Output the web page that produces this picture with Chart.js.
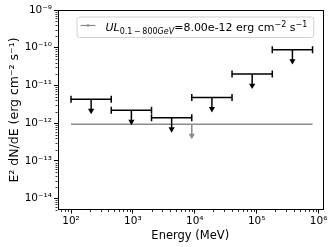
<!DOCTYPE html>
<html>
<head>
<meta charset="utf-8">
<script src="https://cdn.jsdelivr.net/npm/chart.js@4.4.1/dist/chart.umd.min.js"></script>
<style>
  html, body { margin: 0; padding: 0; background: #fff; }
  canvas { display: block; }
</style>
</head>
<body>
<canvas id="sed" width="332" height="247"></canvas>
<script>
// energy bins (MeV) and flux upper limits (erg cm^-2 s^-1)
const binLow = [100, 447, 2000, 8944, 40000, 178885];
const binHigh = [447, 2000, 8944, 40000, 178885, 800000];
const upperLimits = [4.3e-12, 2.2e-12, 1.4e-12, 4.8e-12, 2.0e-11, 8.9e-11];

// integrated upper limit over the whole band
const bandLow = 100;
const bandHigh = 800000;
const bandUL = 9.4e-13;
const bandLabelValue = '8.00e-12';

// axis ranges
const xRange = [60.5, 1.18e6];
const yRange = [5.0e-15, 1.0e-9];

const ARROW = 0.5;     // arrow end as fraction of the limit
const FONT = "'DejaVu Sans'";
const GREY = '#8c8c8c';

const SUP = { '-': '\u207B', '0': '\u2070', '1': '\u00B9', '2': '\u00B2', '3': '\u00B3',
  '4': '\u2074', '5': '\u2075', '6': '\u2076', '7': '\u2077', '8': '\u2078', '9': '\u2079' };
const sup = s => String(s).split('').map(ch => SUP[ch] || ch).join('');

// decade ticks + minor ticks 2..9
function logTicks(scale) {
  const ticks = [];
  const lo = Math.floor(Math.log10(scale.min));
  const hi = Math.ceil(Math.log10(scale.max));
  for (let e = lo; e <= hi; e++) {
    for (let k = 1; k <= 9; k++) {
      const v = k * Math.pow(10, e);
      if (v >= scale.min * 0.999 && v <= scale.max * 1.001) {
        ticks.push({ value: v, major: k === 1, exp: e });
      }
    }
  }
  scale.ticks = ticks;
}

function tickLabel(value, index, ticks) {
  const t = ticks[index];
  return t && t.major ? '10' + sup(t.exp) : '';
}

const datasets = [];
binLow.forEach((lo, i) => {
  const hi = binHigh[i];
  const v = upperLimits[i];
  const c = Math.sqrt(lo * hi);
  // horizontal energy bin with caps
  datasets.push({
    data: [{ x: lo, y: v }, { x: hi, y: v }],
    showLine: true, borderColor: '#000', borderWidth: 1.5,
    pointStyle: 'line', pointRotation: 90, pointRadius: 3.5,
    pointBorderColor: '#000', pointBorderWidth: 1.5
  });
  // downward arrow
  datasets.push({
    data: [{ x: c, y: v }, { x: c, y: v * ARROW }],
    showLine: true, borderColor: '#000', borderWidth: 1.5,
    pointStyle: 'triangle', pointRotation: 180, pointRadius: [0, 3.6],
    pointBackgroundColor: '#000', pointBorderColor: '#000', pointBorderWidth: 0
  });
});

// band limit (drawn underneath)
const bandCenter = Math.sqrt(bandLow * bandHigh);
datasets.push({
  data: [{ x: bandCenter, y: bandUL }, { x: bandCenter, y: bandUL * ARROW }],
  showLine: true, borderColor: GREY, borderWidth: 1.5,
  pointStyle: 'triangle', pointRotation: 180, pointRadius: [0, 3.6],
  pointBackgroundColor: GREY, pointBorderColor: GREY, pointBorderWidth: 0
});
datasets.push({
  data: [{ x: bandLow, y: bandUL }, { x: bandHigh, y: bandUL }],
  showLine: true, borderColor: GREY, borderWidth: 1.5, pointRadius: 0
});

// minor ticks, frame and legend
const decorations = {
  id: 'decorations',
  afterDraw(chart) {
    const ctx = chart.ctx;
    const a = chart.chartArea;
    ctx.save();
    ctx.strokeStyle = '#000';
    ctx.lineWidth = 0.8;
    const xs = chart.scales.x, ys = chart.scales.y;
    xs.ticks.forEach(t => {
      if (t.major) return;
      const px = Math.round(xs.getPixelForValue(t.value)) + 0.5;
      ctx.beginPath(); ctx.moveTo(px, a.bottom); ctx.lineTo(px, a.bottom + 2); ctx.stroke();
    });
    ys.ticks.forEach(t => {
      if (t.major) return;
      const py = Math.round(ys.getPixelForValue(t.value)) + 0.5;
      ctx.beginPath(); ctx.moveTo(a.left, py); ctx.lineTo(a.left - 2, py); ctx.stroke();
    });

    ctx.lineWidth = 1;
    ctx.strokeRect(Math.round(a.left) + 0.5, Math.round(a.top) + 0.5,
      Math.round(a.right - a.left) - 1, Math.round(a.bottom - a.top) - 1);

    // legend
    const big = '11px ' + FONT, bigI = 'italic 11px ' + FONT;
    const small = '8px ' + FONT, smallI = 'italic 8px ' + FONT;
    const parts = [
      { t: 'UL', f: bigI, dy: 0 },
      { t: '0.1\u2009\u2212\u2009800', f: small, dy: 2.5 },
      { t: 'GeV', f: smallI, dy: 2.5 },
      { t: '=' + bandLabelValue + ' erg cm', f: big, dy: 0 },
      { t: '\u22122', f: small, dy: -4 },
      { t: ' s', f: big, dy: 0 },
      { t: '\u22121', f: small, dy: -4 }
    ];
    let w = 0;
    parts.forEach(p => { ctx.font = p.f; p.w = ctx.measureText(p.t).width; w += p.w; });
    const bx = a.left + 19.5, by = a.top + 7;
    const bw = 28 + w + 7, bh = 20.5;
    ctx.beginPath();
    ctx.roundRect(bx, by, bw, bh, 2.5);
    ctx.fillStyle = 'rgba(255,255,255,0.8)';
    ctx.fill();
    ctx.strokeStyle = '#d0d0d0';
    ctx.lineWidth = 1;
    ctx.stroke();

    const ly = by + 8.5;
    ctx.strokeStyle = GREY;
    ctx.lineWidth = 1.2;
    ctx.beginPath(); ctx.moveTo(bx + 3.5, ly); ctx.lineTo(bx + 18.5, ly); ctx.stroke();
    ctx.fillStyle = GREY;
    ctx.beginPath(); ctx.arc(bx + 11, ly, 1.3, 0, Math.PI * 2); ctx.fill();

    ctx.fillStyle = '#000';
    ctx.textBaseline = 'alphabetic';
    let tx = bx + 28.5;
    const base = by + 14;
    parts.forEach(p => {
      ctx.font = p.f;
      ctx.fillText(p.t, tx, base + p.dy);
      tx += p.w;
    });
    ctx.restore();
  }
};

new Chart(document.getElementById('sed'), {
  type: 'scatter',
  data: { datasets: datasets },
  options: {
    responsive: false,
    animation: false,
    events: [],
    layout: { padding: { top: 10, right: 9, left: 0, bottom: 0 } },
    plugins: { legend: { display: false }, tooltip: { enabled: false } },
    scales: {
      x: {
        type: 'logarithmic',
        min: xRange[0], max: xRange[1],
        bounds: 'data',
        afterBuildTicks: logTicks,
        afterFit: s => { s.height = 37; },
        grid: {
          drawOnChartArea: false, drawTicks: true, tickLength: 3.5,
          tickColor: c => (c.tick && c.tick.major) ? '#000' : 'rgba(0,0,0,0)'
        },
        border: { display: false },
        ticks: {
          autoSkip: false, maxRotation: 0, padding: 1,
          color: '#000', font: { family: FONT, size: 10.5 },
          callback: tickLabel
        },
        title: {
          display: true, text: 'Energy (MeV)', color: '#000',
          font: { family: FONT, size: 11.5 }, padding: { top: 0, bottom: 4 }
        }
      },
      y: {
        type: 'logarithmic',
        min: yRange[0], max: yRange[1],
        bounds: 'data',
        afterBuildTicks: logTicks,
        afterFit: s => { s.width = 57.5; },
        grid: {
          drawOnChartArea: false, drawTicks: true, tickLength: 3.5,
          tickColor: c => (c.tick && c.tick.major) ? '#000' : 'rgba(0,0,0,0)'
        },
        border: { display: false },
        ticks: {
          autoSkip: false, padding: 2,
          color: '#000', font: { family: FONT, size: 10.5 },
          callback: tickLabel
        },
        title: {
          display: true, text: 'E\u00B2 dN/dE (erg cm\u207B\u00B2 s\u207B\u00B9)', color: '#000',
          font: { family: FONT, size: 12.5 }, padding: { top: 7, bottom: 0 }
        }
      }
    }
  },
  plugins: [decorations]
});
</script>
</body>
</html>
